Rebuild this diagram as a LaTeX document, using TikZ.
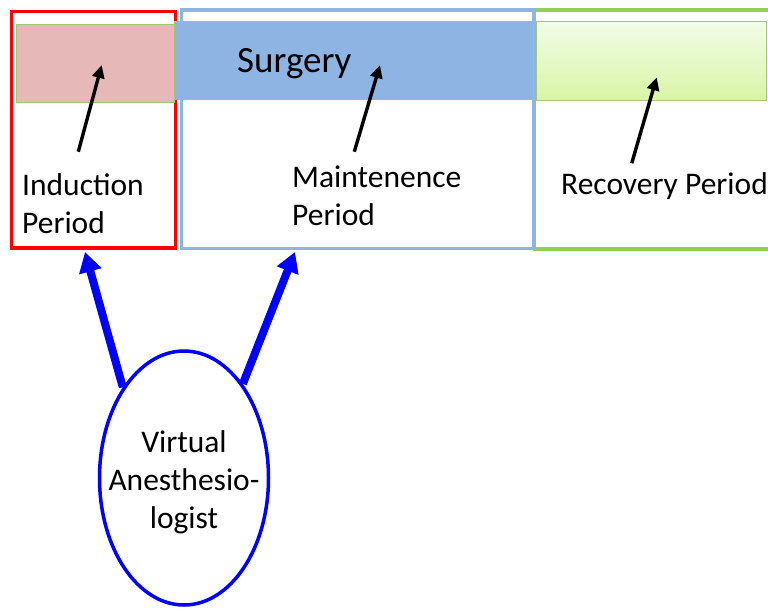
\documentclass[tikz,border=0pt]{standalone}
\usepackage{fontspec}
\setmainfont{Carlito}
\usetikzlibrary{shapes.geometric,arrows.meta}
\definecolor{redframe}{HTML}{FF0000}
\definecolor{pinkbar}{HTML}{E6B9B8}
\definecolor{barline}{HTML}{A6C576}
\definecolor{blueframe}{HTML}{8EB4E3}
\definecolor{greenframe}{HTML}{92D050}
\definecolor{greentop}{HTML}{F2FCE8}
\definecolor{greenbot}{HTML}{D8F5A6}
\definecolor{vablue}{HTML}{0000FF}
\begin{document}
\begin{tikzpicture}[x=1pt,y=-1pt,
  frame/.style={draw, line width=3.5pt, inner sep=0pt},
  bar/.style={draw=barline, line width=0.8pt, inner sep=0pt},
  lbl/.style={font=\fontsize{31.5}{38}\selectfont, inner sep=0pt, align=left, anchor=base west},
  ptr/.style={line width=3.4pt, -{Triangle[width=12pt,length=13pt]}},
  bigarrow/.style={draw=vablue, line width=8pt, -{Triangle[width=22pt,length=20pt]}}]
\clip (0,0) rectangle (768,608);
\fill[white] (0,0) rectangle (768,608);
% frames
\node[frame, draw=redframe, minimum width=163.6pt, minimum height=236.7pt] (induct) at (93.5,129.65) {};
\node[bar, fill=pinkbar, minimum width=157.5pt, minimum height=78.5pt] (pink) at (95.25,63.5) {};
\node[frame, draw=greenframe, minimum width=260pt, minimum height=239pt] (recov) at (664.7,129.5) {};
\node[bar, top color=greentop, bottom color=greenbot, minimum width=230.7pt, minimum height=78.3pt] (greenbar) at (651.35,60.85) {};
\node[frame, draw=blueframe, minimum width=351.6pt, minimum height=238.3pt] (maint) at (357.5,129.15) {};
\node[bar, fill=blueframe, minimum width=359pt, minimum height=78.3pt] (surg) at (353.5,60.15) {};
% texts
\node[font=\fontsize{37}{44}\selectfont, inner sep=0pt, anchor=base west] (surgtxt) at (237,72) {Surgery};
\node[lbl] (indlbl) at (22,233) {Induction\\Period};
\node[lbl] (mntlbl) at (292,225) {Maintenence\\Period};
\node[lbl] (reclbl) at (561,194) {Recovery Period};
% pointer arrows
\coordinate (p1s) at (78.3,151.7);
\coordinate (p1e) at (101.7,65);
\coordinate (p2s) at (354.3,151.7);
\coordinate (p2e) at (380,65);
\coordinate (p3s) at (631.7,163.3);
\coordinate (p3e) at (656.7,77.3);
\draw[ptr] (p1s) -- (p1e);
\draw[ptr] (p2s) -- (p2e);
\draw[ptr] (p3s) -- (p3e);
% ellipse
\node[ellipse, draw=vablue, line width=3.5pt, minimum width=169pt, minimum height=254pt, inner sep=0pt] (va) at (184,478) {};
\node[font=\fontsize{31.5}{38}\selectfont, inner sep=0pt, align=center] (vatxt) at (184,482.75) {Virtual\\Anesthesio-\\logist};
% big arrows
\coordinate (t1) at (85,252);
\coordinate (t2) at (295,252);
\draw[bigarrow] (va.124) -- (t1);
\draw[bigarrow] (va.58) -- (t2);
\end{tikzpicture}
\end{document}
